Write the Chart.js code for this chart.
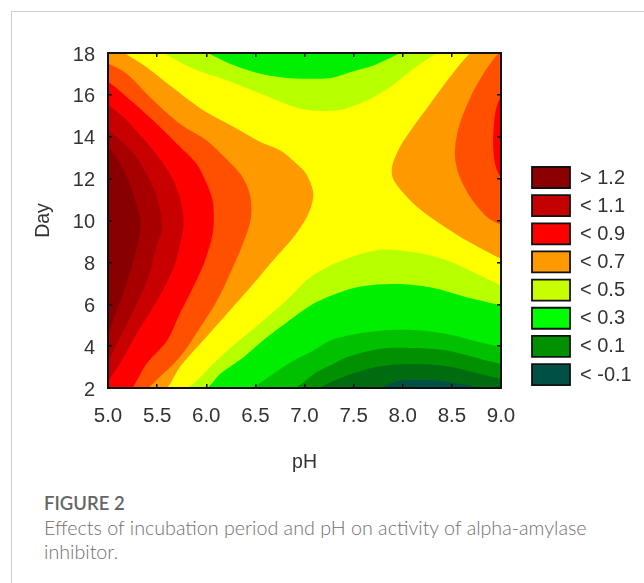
<!DOCTYPE html>
<html><head><meta charset="utf-8">
<script src="https://cdn.jsdelivr.net/npm/chart.js@4"></script>
<style>
html,body{margin:0;padding:0;background:#fff;width:644px;height:583px;overflow:hidden}
#frame{position:absolute;left:11px;top:11px;width:640px;height:580px;border-left:1.5px solid #cfcfcf;border-top:1.5px solid #cfcfcf}
#wrap{position:absolute;left:0;top:0;width:644px;height:490px}
canvas{filter:blur(0.5px)}
#fig{position:absolute;left:44px;top:492px;font:600 18.5px/22px Lato,"Open Sans",sans-serif;color:#666}
#cap{position:absolute;left:44px;top:516px;width:570px;font:300 19.7px/24px Lato,"Open Sans",sans-serif;color:#707070}
</style></head><body>
<div id="frame"></div>
<div id="wrap"><canvas id="c" width="644" height="490"></canvas></div>
<div id="fig">FIGURE 2</div>
<div id="cap">Effects of incubation period and pH on activity of alpha-amylase inhibitor.</div>
<script>
// tick labels
const phTicks=[5,5.5,6,6.5,7,7.5,8,8.5,9];
const dayTicks=[2,4,6,8,10,12,14,16,18];
// legend
const legendLabels=['> 1.2','< 1.1','< 0.9','< 0.7','< 0.5','< 0.3','< 0.1','< -0.1'];
const legendColors=['#8b0000','#c40000','#ff0000','#ff9900','#c8ff00','#00ff00','#009000','#005046'];
// closure points, outside the plot
const closeLeft=[[4,1],[4,19]];
const closeRight=[[10,1],[10,19]];
const closeTop=[[10,19],[4,19]];
const closeBottom=[[10,1],[4,1]];
const wholePlot=[[4,1],[10,1],[10,19],[4,19]];
// contour boundaries [pH, day]
const leftOrange=[[5.0,18.6],[5.17,18],[5.39,17.33],[5.67,16.3],[5.97,15.26],[6.28,14.46],[6.55,13.75],[6.75,13.35],[6.92,12.71],[7.02,12.2],[7.09,11.28],[7.04,10.32],[6.89,9.21],[6.68,8.09],[6.48,6.98],[6.24,5.7],[6.0,4.43],[5.73,2.99],[5.6,2.0],[5.4,1.4]];
const leftRedOrange=[[4.7,18],[5,17.5],[5.19,17.01],[5.46,15.74],[5.73,14.62],[6.0,13.83],[6.22,12.87],[6.37,12.07],[6.45,11.12],[6.45,10.0],[6.36,8.73],[6.24,7.45],[6.11,6.18],[5.94,4.9],[5.73,3.47],[5.41,2.0],[5.3,1.4]];
const leftRed=[[4.7,17.1],[5,16.6],[5.19,15.9],[5.46,14.78],[5.7,13.67],[5.9,12.71],[6.02,11.6],[6.07,10.8],[6.07,9.52],[6.0,8.25],[5.9,7.14],[5.73,5.54],[5.6,4.26],[5.39,3.15],[5.25,2.0],[5.15,1.4]];
const leftCrimson=[[4.7,16.0],[5,15.5],[5.19,14.78],[5.46,13.35],[5.63,12.23],[5.73,11.12],[5.77,10.0],[5.75,9.2],[5.67,7.77],[5.5,6.18],[5.29,4.58],[5.14,3.31],[5,2.35],[4.8,1.6]];
const leftDark=[[4.7,14.9],[5,14.3],[5.26,13.2],[5.46,11.6],[5.53,10.5],[5.55,9.5],[5.51,9.04],[5.41,7.29],[5.26,5.7],[5.09,4.1],[5,3.3],[4.8,2.2]];
const leftDarkest=[[4.7,14.2],[5,13.5],[5.16,12.4],[5.27,11.1],[5.33,9.84],[5.29,8.7],[5.19,7],[5.05,5.2],[5,4.6],[4.8,3.4]];
const rightOrange=[[8.9,18.6],[8.69,18],[8.48,16.85],[8.28,15.58],[8.08,14.3],[7.97,13.5],[7.89,12.55],[7.91,11.91],[8.11,10.8],[8.33,10],[8.65,9.04],[9,8.17],[9.3,7.6]];
const rightRedOrange=[[9.2,18.6],[8.98,18],[8.82,17],[8.69,15.9],[8.57,14.46],[8.53,13.2],[8.57,12.2],[8.69,11.1],[8.86,10.16],[9,9.8],[9.3,9.4]];
const rightRed=[[9.2,16.6],[9,15.9],[8.94,15.1],[8.92,13.67],[8.94,12.7],[9,12.07],[9.2,11.5]];
const topLime=[[5.3,18.6],[5.56,18],[5.87,17.25],[6.21,16.7],[6.55,16.06],[6.96,15.34],[7.33,15.26],[7.6,15.66],[7.87,16.37],[8.11,17.25],[8.35,18],[8.6,18.6]];
const topGreen=[[5.8,18.6],[6.02,18],[6.24,17.49],[6.55,17.01],[6.85,16.8],[7.26,16.8],[7.48,17.1],[7.7,17.4],[7.97,18],[8.2,18.6]];
const bottomLime=[[5.5,1.4],[5.8,2],[5.87,2.2],[6.14,3.47],[6.38,4.43],[6.62,5.38],[6.85,6.34],[7.06,7.29],[7.36,8.05],[7.77,8.6],[8.11,8.49],[8.45,8.09],[8.79,7.37],[9,6.89],[9.3,6.3]];
const bottomGreen=[[5.8,1.4],[6.02,2.04],[6.14,2.67],[6.38,3.47],[6.62,4.43],[6.89,5.38],[7.09,6.02],[7.26,6.4],[7.57,6.85],[7.94,6.97],[8.28,6.81],[8.65,6.34],[9,5.94],[9.3,5.5]];
const bottomMid=[[6.2,1.4],[6.48,2.04],[6.68,2.67],[6.89,3.31],[7.09,3.79],[7.26,4.27],[7.43,4.5],[7.77,4.74],[8.11,4.77],[8.45,4.58],[8.79,4.18],[9,3.95],[9.3,3.6]];
const bottomDeep=[[6.6,1.4],[6.92,2.04],[7.12,2.75],[7.26,3.07],[7.43,3.47],[7.77,3.87],[8.11,3.91],[8.45,3.79],[8.79,3.39],[9,3.15],[9.3,2.8]];
const bottomDarker=[[6.9,1.4],[7.14,2],[7.43,2.59],[7.77,3.04],[8.11,3.15],[8.45,3.04],[8.79,2.67],[9,2.43],[9.3,2.0]];
const bottomTeal=[[7.5,1.4],[7.77,2],[7.97,2.35],[8.28,2.38],[8.59,2.19],[8.76,2],[9,1.4]];

const layers=[
 [wholePlot,'#ffff00',0],
 [leftOrange.concat(closeLeft),'#ff9900'],
 [leftRedOrange.concat(closeLeft),'#ff5000'],
 [leftRed.concat(closeLeft),'#ff0000'],
 [leftCrimson.concat(closeLeft),'#c80000'],
 [leftDark.concat(closeLeft),'#a80000'],
 [leftDarkest.concat(closeLeft),'#880000'],
 [rightOrange.concat(closeRight),'#ff9900'],
 [rightRedOrange.concat(closeRight),'#ff5000'],
 [rightRed.concat(closeRight),'#ff0000'],
 [topLime.concat(closeTop),'#b8ff00'],
 [topGreen.concat(closeTop),'#00f000'],
 [bottomLime.concat(closeBottom),'#b8ff00'],
 [bottomGreen.concat(closeBottom),'#00ee00'],
 [bottomMid.concat(closeBottom),'#00c000'],
 [bottomDeep.concat(closeBottom),'#009000'],
 [bottomDarker.concat(closeBottom),'#006c10'],
 [bottomTeal.concat(closeBottom),'#005046'],
];
const datasets=layers.map(([pts,color,t],i)=>({
  type:'scatter',showLine:true,
  data:pts.map(p=>({x:p[0],y:p[1]})),
  backgroundColor:color,borderColor:color,borderWidth:0,pointRadius:0,
  fill:'shape',tension:t===0?0:0.3,capBezierPoints:false,order:layers.length-i
}));
const legendBox={
  id:'legendBox',
  afterDraw(chart){
    const ctx=chart.ctx;ctx.save();
    legendLabels.forEach((l,i)=>{
      const y=167+i*28.15;
      ctx.fillStyle=legendColors[i];ctx.strokeStyle='#111';ctx.lineWidth=1.8;
      ctx.beginPath();ctx.rect(532,y,38,21);ctx.fill();ctx.stroke();
      ctx.fillStyle='#333';ctx.font='20px "Liberation Sans"';ctx.textBaseline='middle';ctx.textAlign='left';
      ctx.fillText(l,580,y+11);
    });
    ctx.restore();
  }
};
const setPh=s=>{s.ticks=phTicks.map(v=>({value:v,label:v.toFixed(1)}));};
const setDay=s=>{s.ticks=dayTicks.map(v=>({value:v,label:String(v)}));};
const gridOpt={display:true,drawOnChartArea:false,drawTicks:true,tickLength:-4,color:'#111',lineWidth:1.5,z:1};
const borderOpt={display:true,color:'#111',width:2,z:1};
new Chart(document.getElementById('c'),{
  type:'scatter',
  data:{datasets},
  plugins:[legendBox],
  options:{
    responsive:false,animation:false,
    layout:{padding:{top:53,right:143,left:0,bottom:0}},
    plugins:{legend:{display:false},tooltip:{enabled:false}},
    scales:{
      x:{type:'linear',min:5,max:9,position:'bottom',
        afterFit(s){s.height=102;},
        afterTickToLabelConversion:setPh,
        grid:gridOpt,border:borderOpt,
        ticks:{color:'#333',font:{family:'Liberation Sans',size:20.5},maxRotation:0,padding:20,autoSkip:false},
        title:{display:true,text:'pH',color:'#333',font:{family:'Liberation Sans',size:19.5},padding:{top:0,bottom:16}}
      },
      y:{type:'linear',min:2,max:18,position:'left',
        afterFit(s){s.width=108;},
        afterTickToLabelConversion:setDay,
        grid:gridOpt,border:borderOpt,
        ticks:{color:'#333',font:{family:'Liberation Sans',size:20},padding:17,autoSkip:false,labelOffset:2},
        title:{display:true,text:'Day',color:'#333',font:{family:'Liberation Sans',size:19.5},padding:{top:32,bottom:0}}
      },
      x2:{type:'linear',axis:'x',min:5,max:9,position:'top',
        afterFit(s){s.height=0;},
        afterTickToLabelConversion:setPh,
        grid:gridOpt,border:borderOpt,ticks:{display:false,autoSkip:false}
      },
      y2:{type:'linear',axis:'y',min:2,max:18,position:'right',
        afterFit(s){s.width=0;},
        afterTickToLabelConversion:setDay,
        grid:gridOpt,border:borderOpt,ticks:{display:false,autoSkip:false}
      }
    }
  }
});
</script>
</body></html>
